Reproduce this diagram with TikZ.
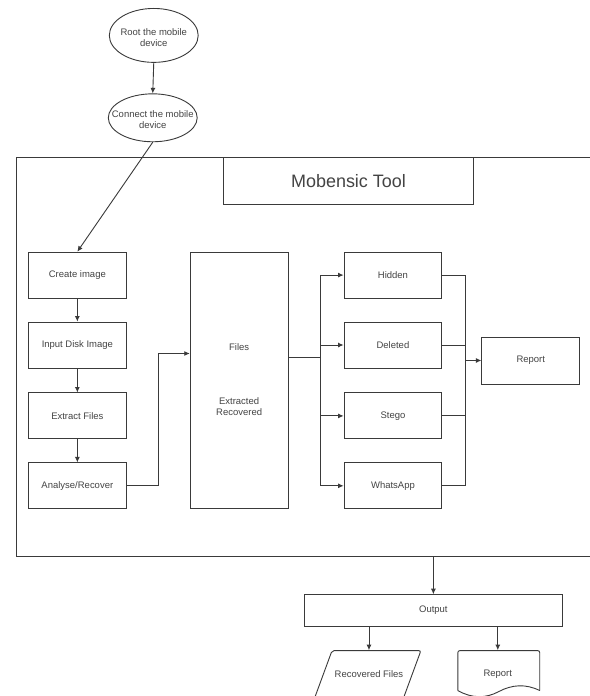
\documentclass[tikz,border=0pt]{standalone}
\usepackage{fontspec}
\setmainfont{Liberation Sans}
\usetikzlibrary{arrows.meta,shapes.geometric}
\definecolor{ln}{HTML}{3A3A3A}
\definecolor{tx}{HTML}{444444}
\begin{document}
\begin{tikzpicture}[x=1pt,y=-1pt,
  line width=0.9pt,
  every path/.style={draw=ln},
  txt/.style={font=\fontsize{9.5}{10.7}\selectfont, text=tx, align=center, inner sep=0pt},
  box/.style={txt, draw=ln, rectangle, minimum width=98pt, minimum height=46pt},
  ell/.style={draw=ln, ellipse, inner sep=0pt, minimum width=89pt},
  shp/.style={draw=ln, rounded corners=2pt},
  arr/.style={-{Latex[length=5.5pt,width=5pt]}},
  ]
\useasboundingbox (0,0) rectangle (589,696);
\fill[white] (0,0) rectangle (589,696);

% frame (right edge outside the picture)
\draw (620,157) -- (16,157) -- (16,557) -- (620,557);
\node[box, minimum width=251pt, minimum height=47pt, font=\fontsize{18}{20}\selectfont, fill=white] (title) at (348.5,180.5) {Mobensic Tool};

% ellipses
\node[ell, minimum height=54pt] (e1) at (153.5,35) {};
\node[txt] (e1t) at (153.5,37) {Root the mobile\\device};
\node[ell, minimum height=48pt] (e2) at (152.5,117.5) {};
\node[txt] (e2t) at (152.5,119) {Connect the mobile\\device};

% left column
\node[box] (create) at (77,275) {Create image};
\node[box] (input) at (77,345) {Input Disk Image};
\node[box] (extract) at (77,416) {Extract Files};
\node[box] (analyse) at (77,486) {Analyse/Recover};

% files
\node[box, minimum height=257pt] (files) at (239,380.5) {};
\node[txt] (filest) at (239,347) {Files};
\node[txt] (filesx) at (239,407) {Extracted\\Recovered};

% categories
\node[box] (hidden) at (393,275) {Hidden};
\node[box] (deleted) at (393,345) {Deleted};
\node[box] (stego) at (393,416) {Stego};
\node[box] (whats) at (393,486) {WhatsApp};
\node[box, minimum height=47pt] (report) at (531,360.5) {Report};

% output
\node[box, minimum width=259pt, minimum height=32pt] (output) at (433.5,611) {Output};

% recovered files parallelogram
\draw[shp] (332,651) -- (421,651) -- (403,700) -- (314,700) -- cycle;
\node[txt, minimum height=48pt] (rec) at (369,675) {Recovered Files};
% report document
\draw[shp] (540,691) -- (540,651) -- (458,651) -- (458,691);
\draw (458,691) .. controls (472,699) and (486,699) .. (499,692) .. controls (512,685) and (526,684) .. (540,691);
\node[txt, minimum height=48pt] (repdoc) at (498,675) {Report};

% connectors
\draw[arr] (e1.south) -- (e2.north);
\draw[arr] (e2.south) -- (create.north);
\draw[arr] (create) -- (input);
\draw[arr] (input) -- (extract);
\draw[arr] (extract) -- (analyse);
\draw[arr] (analyse.east) -- ++(32,0) |- ([yshift=27pt]files.west);

\coordinate (fan) at (320,357);
\draw ([yshift=23.5pt]files.east) -- (fan);
\draw[arr] (fan) |- (hidden.west);
\draw[arr] (fan) |- (deleted.west);
\draw[arr] (fan) |- (stego.west);
\draw[arr] (fan) |- (whats.west);

\coordinate (fin) at (466,360.5);
\draw (hidden.east) -| (fin);
\draw (deleted.east) -| (fin);
\draw (stego.east) -| (fin);
\draw (whats.east) -| (fin);
\draw[arr] (fin) -- (report.west);

\coordinate (fb) at (433.5,557);
\draw[arr] (fb) -- (output.north);
\draw[arr] (output.south -| rec.north) -- (rec.north);
\draw[arr] (output.south -| repdoc.north) -- (repdoc.north);
\end{tikzpicture}
\end{document}
